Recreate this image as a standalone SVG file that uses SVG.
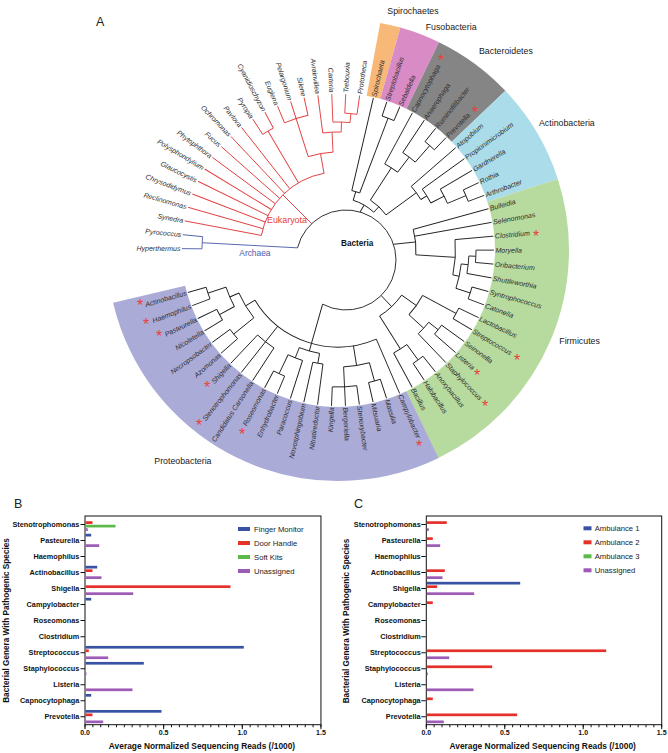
<svg xmlns="http://www.w3.org/2000/svg" width="668" height="753" viewBox="0 0 668 753">
<style>
text{font-family:"Liberation Sans",Arial,sans-serif}
.lf{font-style:italic;font-size:7px;fill:#2d2d2d}
.e{text-anchor:end}
.grp{font-size:8.8px;fill:#1a1a1a}
.ast{font-size:16px;fill:#e8413c;text-anchor:middle}
.tr line,.tr circle,.tr path{fill:none;stroke-width:0.9}
.rd line,.rd circle{stroke:#e23c3c}
.bl line,.bl circle{stroke:#4b5ba8}
.bk line,.bk circle,.bk path{stroke:#1c1c1c}
.wd circle{fill:none;stroke-width:74}
.cat{font-size:7.3px;font-weight:bold;text-anchor:end;fill:#111}
.tk{font-size:7px;font-weight:bold;text-anchor:middle;fill:#111}
.ax{font-size:8.4px;font-weight:bold;text-anchor:middle;fill:#111}
.lg{font-size:7.7px;fill:#222}
.pl{font-size:12.5px;fill:#222}
.fm{fill:none;stroke:#111;stroke-width:1}
.tkl{stroke:#111;fill:none}
.cb{fill:#3953a4}.cr{fill:#e4322b}.cg{fill:#5bb947}.cp{fill:#9d5bb5}
</style>
<rect width="668" height="753" fill="#fff"/>
<text class="pl" x="96" y="26">A</text>
<g id="phyla-bands" class="wd" transform="translate(338 250)">
<circle r="194" stroke="#f8b878" stroke-dasharray="17.37 1300" transform="rotate(-79.47)"/>
<circle r="194" stroke="#d98bc5" stroke-dasharray="34.74 1300" transform="rotate(-74.34)"/>
<circle r="194" stroke="#858585" stroke-dasharray="69.48 1300" transform="rotate(-64.08)"/>
<circle r="194" stroke="#abdcea" stroke-dasharray="86.85 1300" transform="rotate(-43.56)"/>
<circle r="194" stroke="#b7da9f" stroke-dasharray="277.96 1300" transform="rotate(-17.91)"/>
<circle r="194" stroke="#ababd7" stroke-dasharray="347.4 1300" transform="rotate(64.18)"/>
</g>
<g id="connectors" class="tr" transform="translate(338 250)">
<g class="bl">
<line x1="40.56" x2="136" transform="rotate(-176.94)"/>
<circle r="136" stroke-dasharray="12.18 1000" transform="rotate(-179.5)"/>
<line x1="136" x2="156" transform="rotate(-179.5)"/>
<line x1="136" x2="156" transform="rotate(-174.37)"/>
</g>
<g class="rd">
<line x1="37.25" x2="78" transform="rotate(-135)"/>
<circle r="78" stroke-dasharray="93.85 1000" transform="rotate(-169.24)"/>
<line x1="78" x2="156" transform="rotate(-169.24)"/>
<line x1="78" x2="156" transform="rotate(-164.11)"/>
<line x1="78" x2="156" transform="rotate(-158.98)"/>
<line x1="78" x2="156" transform="rotate(-153.85)"/>
<line x1="78" x2="156" transform="rotate(-148.72)"/>
<line x1="78" x2="156" transform="rotate(-143.59)"/>
<line x1="78" x2="156" transform="rotate(-138.46)"/>
<line x1="78" x2="156" transform="rotate(-133.33)"/>
<line x1="78" x2="156" transform="rotate(-128.2)"/>
<line x1="78" x2="138" transform="rotate(-120.5)"/>
<circle r="138" stroke-dasharray="12.36 1000" transform="rotate(-123.07)"/>
<line x1="138" x2="156" transform="rotate(-123.07)"/>
<line x1="138" x2="156" transform="rotate(-117.94)"/>
<line x1="78" x2="98" transform="rotate(-100.3)"/>
<circle r="98" stroke-dasharray="25.28 1000" transform="rotate(-107.68)"/>
<line x1="98" x2="156" transform="rotate(-107.68)"/>
<circle r="138" stroke-dasharray="24.71 1000" transform="rotate(-112.81)"/>
<line x1="138" x2="156" transform="rotate(-112.81)"/>
<line x1="138" x2="156" transform="rotate(-102.55)"/>
<line x1="98" x2="118" transform="rotate(-92.9)"/>
<circle r="118" stroke-dasharray="18.47 1000" transform="rotate(-97.42)"/>
<line x1="118" x2="156" transform="rotate(-97.42)"/>
<line x1="118" x2="128" transform="rotate(-88.45)"/>
<circle r="128" stroke-dasharray="17.18 1000" transform="rotate(-92.29)"/>
<line x1="128" x2="156" transform="rotate(-92.29)"/>
<line x1="128" x2="137" transform="rotate(-84.6)"/>
<circle r="137" stroke-dasharray="12.27 1000" transform="rotate(-87.16)"/>
<line x1="137" x2="156" transform="rotate(-87.16)"/>
<line x1="137" x2="156" transform="rotate(-82.03)"/>
</g>
<g class="bk">
<path d="M-40.5 -2.16A50 50 0 1 1 -15.4 54.18"/>
<line x1="43.9" x2="52" transform="rotate(-59.8)"/>
<circle r="52" stroke-dasharray="24.01 1000" transform="rotate(-73.05)"/>
<line x1="52" x2="61" transform="rotate(-73.05)"/>
<circle r="61" stroke-dasharray="8.2 1000" transform="rotate(-76.9)"/>
<line x1="61" x2="156" transform="rotate(-76.9)"/>
<line x1="61" x2="141" transform="rotate(-69.2)"/>
<circle r="141" stroke-dasharray="12.62 1000" transform="rotate(-71.77)"/>
<line x1="141" x2="156" transform="rotate(-71.77)"/>
<line x1="141" x2="156" transform="rotate(-66.64)"/>
<line x1="52" x2="59.5" transform="rotate(-46.6)"/>
<circle r="59.5" stroke-dasharray="21.64 1000" transform="rotate(-57.02)"/>
<line x1="59.5" x2="98" transform="rotate(-57.02)"/>
<circle r="98" stroke-dasharray="15.36 1000" transform="rotate(-61.51)"/>
<line x1="98" x2="156" transform="rotate(-61.51)"/>
<line x1="98" x2="117" transform="rotate(-52.53)"/>
<circle r="117" stroke-dasharray="15.7 1000" transform="rotate(-56.38)"/>
<line x1="117" x2="156" transform="rotate(-56.38)"/>
<line x1="117" x2="139" transform="rotate(-48.69)"/>
<circle r="139" stroke-dasharray="12.45 1000" transform="rotate(-51.25)"/>
<line x1="139" x2="156" transform="rotate(-51.25)"/>
<line x1="139" x2="156" transform="rotate(-46.12)"/>
<line x1="59.5" x2="97" transform="rotate(-36.18)"/>
<circle r="97" stroke-dasharray="16.29 1000" transform="rotate(-40.99)"/>
<line x1="97" x2="156" transform="rotate(-40.99)"/>
<line x1="97" x2="104" transform="rotate(-31.37)"/>
<circle r="104" stroke-dasharray="16.3 1000" transform="rotate(-35.86)"/>
<line x1="104" x2="156" transform="rotate(-35.86)"/>
<line x1="104" x2="119" transform="rotate(-26.88)"/>
<circle r="119" stroke-dasharray="15.97 1000" transform="rotate(-30.73)"/>
<line x1="119" x2="156" transform="rotate(-30.73)"/>
<line x1="119" x2="139" transform="rotate(-23.04)"/>
<circle r="139" stroke-dasharray="12.45 1000" transform="rotate(-25.6)"/>
<line x1="139" x2="156" transform="rotate(-25.6)"/>
<line x1="139" x2="156" transform="rotate(-20.47)"/>
<line x1="55.76" x2="78" transform="rotate(-5.9)"/>
<circle r="78" stroke-dasharray="25.76 1000" transform="rotate(-15.34)"/>
<line x1="78" x2="156" transform="rotate(-15.34)"/>
<line x1="78" x2="156" transform="rotate(-10.21)"/>
<line x1="78" x2="117.5" transform="rotate(3.58)"/>
<circle r="117.5" stroke-dasharray="35.5 1000" transform="rotate(-5.08)"/>
<line x1="117.5" x2="156" transform="rotate(-5.08)"/>
<line x1="117.5" x2="124" transform="rotate(12.23)"/>
<circle r="124" stroke-dasharray="24.97 1000" transform="rotate(6.46)"/>
<line x1="124" x2="131" transform="rotate(6.46)"/>
<circle r="131" stroke-dasharray="17.59 1000" transform="rotate(2.615)"/>
<line x1="131" x2="156" transform="rotate(10.31)"/>
<line x1="131" x2="138" transform="rotate(2.615)"/>
<circle r="138" stroke-dasharray="12.36 1000" transform="rotate(0.05)"/>
<line x1="138" x2="156" transform="rotate(0.05)"/>
<line x1="138" x2="156" transform="rotate(5.18)"/>
<line x1="124" x2="139" transform="rotate(18)"/>
<circle r="139" stroke-dasharray="12.45 1000" transform="rotate(15.44)"/>
<line x1="139" x2="156" transform="rotate(15.44)"/>
<line x1="139" x2="156" transform="rotate(20.57)"/>
<line x1="62.8" x2="78" transform="rotate(46.55)"/>
<circle r="78" stroke-dasharray="30.55 1000" transform="rotate(35.33)"/>
<line x1="78" x2="96" transform="rotate(35.33)"/>
<circle r="96" stroke-dasharray="23.64 1000" transform="rotate(28.27)"/>
<line x1="96" x2="134" transform="rotate(28.27)"/>
<circle r="134" stroke-dasharray="12 1000" transform="rotate(25.7)"/>
<line x1="134" x2="156" transform="rotate(25.7)"/>
<line x1="134" x2="156" transform="rotate(30.83)"/>
<line x1="96" x2="116" transform="rotate(42.38)"/>
<circle r="116" stroke-dasharray="15.57 1000" transform="rotate(38.53)"/>
<line x1="116" x2="156" transform="rotate(46.22)"/>
<line x1="116" x2="128" transform="rotate(38.53)"/>
<circle r="128" stroke-dasharray="11.46 1000" transform="rotate(35.96)"/>
<line x1="128" x2="156" transform="rotate(35.96)"/>
<line x1="128" x2="156" transform="rotate(41.09)"/>
<line x1="78" x2="117" transform="rotate(57.77)"/>
<circle r="117" stroke-dasharray="15.7 1000" transform="rotate(53.92)"/>
<line x1="117" x2="156" transform="rotate(61.61)"/>
<line x1="117" x2="136" transform="rotate(53.92)"/>
<circle r="136" stroke-dasharray="12.18 1000" transform="rotate(51.35)"/>
<line x1="136" x2="156" transform="rotate(51.35)"/>
<line x1="136" x2="156" transform="rotate(56.48)"/>
<line x1="56.33" x2="105" transform="rotate(105.86)"/>
<circle r="97" stroke-dasharray="138.97 1000" transform="rotate(66.74)"/>
<line x1="97" x2="156" transform="rotate(66.74)"/>
<line x1="97" x2="117" transform="rotate(80.85)"/>
<circle r="117" stroke-dasharray="26.18 1000" transform="rotate(74.44)"/>
<line x1="117" x2="136" transform="rotate(74.44)"/>
<circle r="136" stroke-dasharray="12.18 1000" transform="rotate(71.87)"/>
<line x1="136" x2="156" transform="rotate(71.87)"/>
<line x1="136" x2="156" transform="rotate(77)"/>
<line x1="117" x2="156" transform="rotate(87.26)"/>
<circle r="137" stroke-dasharray="24.53 1000" transform="rotate(82.13)"/>
<line x1="137" x2="156" transform="rotate(82.13)"/>
<line x1="137" x2="156" transform="rotate(92.39)"/>
<circle r="105" stroke-dasharray="21.15 1000" transform="rotate(100.09)"/>
<line x1="105" x2="115" transform="rotate(100.09)"/>
<circle r="115" stroke-dasharray="10.3 1000" transform="rotate(97.52)"/>
<line x1="115" x2="156" transform="rotate(97.52)"/>
<line x1="115" x2="156" transform="rotate(102.65)"/>
<line x1="105" x2="116" transform="rotate(111.63)"/>
<circle r="116" stroke-dasharray="15.59 1000" transform="rotate(107.78)"/>
<line x1="116" x2="156" transform="rotate(107.78)"/>
<line x1="116" x2="137" transform="rotate(115.48)"/>
<circle r="137" stroke-dasharray="12.27 1000" transform="rotate(112.91)"/>
<line x1="137" x2="156" transform="rotate(112.91)"/>
<line x1="137" x2="156" transform="rotate(118.04)"/>
<line x1="97" x2="156" transform="rotate(128.3)"/>
<circle r="117" stroke-dasharray="20.95 1000" transform="rotate(123.17)"/>
<line x1="117" x2="156" transform="rotate(123.17)"/>
<line x1="117" x2="156" transform="rotate(133.43)"/>
<line x1="97" x2="108" transform="rotate(148.83)"/>
<circle r="108" stroke-dasharray="29.01 1000" transform="rotate(141.13)"/>
<line x1="108" x2="134" transform="rotate(141.13)"/>
<circle r="134" stroke-dasharray="12 1000" transform="rotate(138.56)"/>
<line x1="134" x2="156" transform="rotate(138.56)"/>
<line x1="134" x2="156" transform="rotate(143.69)"/>
<line x1="108" x2="118" transform="rotate(156.52)"/>
<circle r="118" stroke-dasharray="21.13 1000" transform="rotate(151.39)"/>
<line x1="118" x2="135" transform="rotate(151.39)"/>
<circle r="135" stroke-dasharray="12.09 1000" transform="rotate(148.82)"/>
<line x1="135" x2="156" transform="rotate(148.82)"/>
<line x1="135" x2="156" transform="rotate(153.95)"/>
<line x1="118" x2="137" transform="rotate(161.65)"/>
<circle r="137" stroke-dasharray="12.27 1000" transform="rotate(159.08)"/>
<line x1="137" x2="156" transform="rotate(159.08)"/>
<line x1="137" x2="156" transform="rotate(164.21)"/>
</g>
</g>
<g id="leaves" transform="translate(338 250)">
<g id="n-hyperthermus"><text class="lf e" transform="rotate(0.5) translate(-157.5 2.5)">Hyperthermus</text></g>
<g id="n-pyrococcus"><text class="lf e" transform="rotate(5.63) translate(-157.5 2.5)">Pyrococcus</text></g>
<g id="n-synedra"><text class="lf e" transform="rotate(10.76) translate(-157.5 2.5)">Synedra</text></g>
<g id="n-reclinomonas"><text class="lf e" transform="rotate(15.89) translate(-157.5 2.5)">Reclinomonas</text></g>
<g id="n-chrysodidymus"><text class="lf e" transform="rotate(21.02) translate(-157.5 2.5)">Chrysodidymus</text></g>
<g id="n-glaucocystis"><text class="lf e" transform="rotate(26.15) translate(-157.5 2.5)">Glaucocystis</text></g>
<g id="n-polysphondylium"><text class="lf e" transform="rotate(31.28) translate(-157.5 2.5)">Polysphondylium</text></g>
<g id="n-phytophthora"><text class="lf e" transform="rotate(36.41) translate(-157.5 2.5)">Phytophthora</text></g>
<g id="n-fucus"><text class="lf e" transform="rotate(41.54) translate(-157.5 2.5)">Fucus</text></g>
<g id="n-ochromonas"><text class="lf e" transform="rotate(46.67) translate(-157.5 2.5)">Ochromonas</text></g>
<g id="n-pavlova"><text class="lf e" transform="rotate(51.8) translate(-157.5 2.5)">Pavlova</text></g>
<g id="n-pyropia"><text class="lf e" transform="rotate(56.93) translate(-157.5 2.5)">Pyropia</text></g>
<g id="n-cyanidioschyzon"><text class="lf e" transform="rotate(62.06) translate(-157.5 2.5)">Cyanidioschyzon</text></g>
<g id="n-euglena"><text class="lf e" transform="rotate(67.19) translate(-157.5 2.5)">Euglena</text></g>
<g id="n-pelargonium"><text class="lf e" transform="rotate(72.32) translate(-157.5 2.5)">Pelargonium</text></g>
<g id="n-silene"><text class="lf e" transform="rotate(77.45) translate(-157.5 2.5)">Silene</text></g>
<g id="n-avrainvillea"><text class="lf e" transform="rotate(82.58) translate(-157.5 2.5)">Avrainvillea</text></g>
<g id="n-carteria"><text class="lf e" transform="rotate(87.71) translate(-157.5 2.5)">Carteria</text></g>
<g id="n-trebouxia"><text class="lf" transform="rotate(-87.16) translate(157.5 2.5)">Trebouxia</text></g>
<g id="n-prototheca"><text class="lf" transform="rotate(-82.03) translate(157.5 2.5)">Prototheca</text></g>
<g id="n-spirochaeta"><text class="lf" transform="rotate(-76.9) translate(157.5 2.5)">Spirochaeta</text></g>
<g id="n-streptobacillus"><text class="lf" transform="rotate(-71.77) translate(157.5 2.5)">Streptobacillus</text></g>
<g id="n-sebaldella"><text class="lf" transform="rotate(-66.64) translate(157.5 2.5)">Sebaldella</text></g>
<g id="n-capnocytophaga"><text class="lf" transform="rotate(-61.51) translate(157.5 2.5)">Capnocytophaga</text></g>
<g id="n-anaerophaga"><text class="lf" transform="rotate(-56.38) translate(157.5 2.5)">Anaerophaga</text></g>
<g id="n-ruminofilibacter"><text class="lf" transform="rotate(-51.25) translate(157.5 2.5)">Ruminofilibacter</text></g>
<g id="n-prevotella"><text class="lf" transform="rotate(-46.12) translate(157.5 2.5)">Prevotella</text></g>
<g id="n-atopobium"><text class="lf" transform="rotate(-40.99) translate(157.5 2.5)">Atopobium</text></g>
<g id="n-propionimicrobium"><text class="lf" transform="rotate(-35.86) translate(157.5 2.5)">Propionimicrobium</text></g>
<g id="n-gardnerella"><text class="lf" transform="rotate(-30.73) translate(157.5 2.5)">Gardnerella</text></g>
<g id="n-rothia"><text class="lf" transform="rotate(-25.6) translate(157.5 2.5)">Rothia</text></g>
<g id="n-arthrobacter"><text class="lf" transform="rotate(-20.47) translate(157.5 2.5)">Arthrobacter</text></g>
<g id="n-bulleidia"><text class="lf" transform="rotate(-15.34) translate(157.5 2.5)">Bulleidia</text></g>
<g id="n-selenomonas"><text class="lf" transform="rotate(-10.21) translate(157.5 2.5)">Selenomonas</text></g>
<g id="n-clostridium"><text class="lf" transform="rotate(-5.08) translate(157.5 2.5)">Clostridium</text></g>
<g id="n-moryella"><text class="lf" transform="rotate(0.05) translate(157.5 2.5)">Moryella</text></g>
<g id="n-oribacterium"><text class="lf" transform="rotate(5.18) translate(157.5 2.5)">Oribacterium</text></g>
<g id="n-shuttleworthia"><text class="lf" transform="rotate(10.31) translate(157.5 2.5)">Shuttleworthia</text></g>
<g id="n-syntrophococcus"><text class="lf" transform="rotate(15.44) translate(157.5 2.5)">Syntrophococcus</text></g>
<g id="n-catonella"><text class="lf" transform="rotate(20.57) translate(157.5 2.5)">Catonella</text></g>
<g id="n-lactobacillus"><text class="lf" transform="rotate(25.7) translate(157.5 2.5)">Lactobacillus</text></g>
<g id="n-streptococcus"><text class="lf" transform="rotate(30.83) translate(157.5 2.5)">Streptococcus</text></g>
<g id="n-seinonella"><text class="lf" transform="rotate(35.96) translate(157.5 2.5)">Seinonella</text></g>
<g id="n-listeria"><text class="lf" transform="rotate(41.09) translate(157.5 2.5)">Listeria</text></g>
<g id="n-staphylococcus"><text class="lf" transform="rotate(46.22) translate(157.5 2.5)">Staphylococcus</text></g>
<g id="n-anoxybacillus"><text class="lf" transform="rotate(51.35) translate(157.5 2.5)">Anoxybacillus</text></g>
<g id="n-halobacillus"><text class="lf" transform="rotate(56.48) translate(157.5 2.5)">Halobacillus</text></g>
<g id="n-bacillus"><text class="lf" transform="rotate(61.61) translate(157.5 2.5)">Bacillus</text></g>
<g id="n-campylobacter"><text class="lf" transform="rotate(66.74) translate(157.5 2.5)">Campylobacter</text></g>
<g id="n-massilia"><text class="lf" transform="rotate(71.87) translate(157.5 2.5)">Massilia</text></g>
<g id="n-mitsuaria"><text class="lf" transform="rotate(77) translate(157.5 2.5)">Mitsuaria</text></g>
<g id="n-stenoxybacter"><text class="lf" transform="rotate(82.13) translate(157.5 2.5)">Stenoxybacter</text></g>
<g id="n-bergeriella"><text class="lf" transform="rotate(87.26) translate(157.5 2.5)">Bergeriella</text></g>
<g id="n-kingella"><text class="lf e" transform="rotate(-87.61) translate(-157.5 2.5)">Kingella</text></g>
<g id="n-nitratireductor"><text class="lf e" transform="rotate(-82.48) translate(-157.5 2.5)">Nitratireductor</text></g>
<g id="n-novosphingobium"><text class="lf e" transform="rotate(-77.35) translate(-157.5 2.5)">Novosphingobium</text></g>
<g id="n-paracoccus"><text class="lf e" transform="rotate(-72.22) translate(-157.5 2.5)">Paracoccus</text></g>
<g id="n-enhydrobacter"><text class="lf e" transform="rotate(-67.09) translate(-157.5 2.5)">Enhydrobacter</text></g>
<g id="n-roseomonas"><text class="lf e" transform="rotate(-61.96) translate(-157.5 2.5)">Roseomonas</text></g>
<g id="n-carsonella"><text class="lf e" transform="rotate(-56.83) translate(-157.5 2.5)">Candidatus Carsonella</text></g>
<g id="n-stenotrophomonas"><text class="lf e" transform="rotate(-51.7) translate(-157.5 2.5)">Stenotrophomonas</text></g>
<g id="n-shigella"><text class="lf e" transform="rotate(-46.57) translate(-157.5 2.5)">Shigella</text></g>
<g id="n-azomonas"><text class="lf e" transform="rotate(-41.44) translate(-157.5 2.5)">Azomonas</text></g>
<g id="n-necropsobacter"><text class="lf e" transform="rotate(-36.31) translate(-157.5 2.5)">Necropsobacter</text></g>
<g id="n-nicoletella"><text class="lf e" transform="rotate(-31.18) translate(-157.5 2.5)">Nicoletella</text></g>
<g id="n-pasteurella"><text class="lf e" transform="rotate(-26.05) translate(-157.5 2.5)">Pasteurella</text></g>
<g id="n-haemophilus"><text class="lf e" transform="rotate(-20.92) translate(-157.5 2.5)">Haemophilus</text></g>
<g id="n-actinobacillus"><text class="lf e" transform="rotate(-15.79) translate(-157.5 2.5)">Actinobacillus</text></g>
</g>
<g id="pathogen-marks">
<text class="ast" x="441" y="66.2">*</text>
<text class="ast" x="475" y="118.2">*</text>
<text class="ast" x="536" y="242.2">*</text>
<text class="ast" x="517" y="366.2">*</text>
<text class="ast" x="477" y="381.2">*</text>
<text class="ast" x="485" y="412.2">*</text>
<text class="ast" x="419" y="452.2">*</text>
<text class="ast" x="242" y="440.2">*</text>
<text class="ast" x="199" y="431.2">*</text>
<text class="ast" x="207" y="393.2">*</text>
<text class="ast" x="159" y="342.2">*</text>
<text class="ast" x="146" y="330.2">*</text>
<text class="ast" x="140" y="311.2">*</text>
</g>
<g id="clade-labels">
<text x="267" y="223" style="font-size:8.9px;fill:#e23c3c">Eukaryota</text>
<text x="239.3" y="255.5" style="font-size:8.4px;fill:#4b5ba8">Archaea</text>
<text x="341" y="245.7" style="font-size:8.2px;font-weight:bold;fill:#111">Bacteria</text>
<text class="grp" x="387.3" y="14.3">Spirochaetes</text>
<text class="grp" x="425.7" y="29.5">Fusobacteria</text>
<text class="grp" x="479" y="53.5">Bacteroidetes</text>
<text class="grp" x="539" y="125.7">Actinobacteria</text>
<text class="grp" x="559.3" y="343.7">Firmicutes</text>
<text class="grp" x="154.3" y="463.7">Proteobacteria</text>
</g>
<g id="chart-B">
<text class="pl" x="14" y="508">B</text>
<rect class="fm" x="85" y="516" width="235.95" height="208.7"/>
<line class="tkl" x1="82.75" y1="524" x2="82.75" y2="718" stroke-width="4.5" stroke-dasharray="1 15.02"/>
<line class="tkl" x1="84.5" y1="726" x2="321.5" y2="726" stroke-width="2.6" stroke-dasharray="1 6.865"/>
<path class="tkl" d="M85 724.7v4.5M163.65 724.7v4.5M242.3 724.7v4.5M320.95 724.7v4.5"/>
<text class="tk" x="85" y="735">0.0</text><text class="tk" x="163.65" y="735">0.5</text><text class="tk" x="242.3" y="735">1.0</text><text class="tk" x="320.95" y="735">1.5</text>
<text class="ax" x="202" y="748.5">Average Normalized Sequencing Reads (/1000)</text>
<text class="ax" style="font-size:8.2px" transform="translate(9 620.5) rotate(-90)">Bacterial Genera With Pathogenic Species</text>
<text class="cat" x="79.3" y="527.1">Stenotrophomonas</text>
<text class="cat" x="79.3" y="543.12">Pasteurella</text>
<text class="cat" x="79.3" y="559.14">Haemophilus</text>
<text class="cat" x="79.3" y="575.16">Actinobacillus</text>
<text class="cat" x="79.3" y="591.18">Shigella</text>
<text class="cat" x="79.3" y="607.2">Campylobacter</text>
<text class="cat" x="79.3" y="623.22">Roseomonas</text>
<text class="cat" x="79.3" y="639.24">Clostridium</text>
<text class="cat" x="79.3" y="655.26">Streptococcus</text>
<text class="cat" x="79.3" y="671.28">Staphylococcus</text>
<text class="cat" x="79.3" y="687.3">Listeria</text>
<text class="cat" x="79.3" y="703.32">Capnocytophaga</text>
<text class="cat" x="79.3" y="719.34">Prevotella</text>
<rect class="cr" x="85.5" y="521.25" width="7" height="2.7"/>
<rect class="cg" x="85.5" y="524.75" width="30" height="2.7"/>
<rect class="cp" x="85.5" y="528.25" width="2.3" height="2.7"/>
<rect class="cb" x="85.5" y="533.77" width="5.7" height="2.7"/>
<rect class="cp" x="85.5" y="544.27" width="13.7" height="2.7"/>
<rect class="cb" x="85.5" y="565.81" width="11.7" height="2.7"/>
<rect class="cr" x="85.5" y="569.31" width="7" height="2.7"/>
<rect class="cp" x="85.5" y="576.31" width="16" height="2.7"/>
<rect class="cr" x="85.5" y="585.33" width="145" height="2.7"/>
<rect class="cp" x="85.5" y="592.33" width="47.7" height="2.7"/>
<rect class="cb" x="85.5" y="597.85" width="5.7" height="2.7"/>
<rect class="cb" x="85.5" y="645.91" width="158.3" height="2.7"/>
<rect class="cr" x="85.5" y="649.41" width="3.3" height="2.7"/>
<rect class="cp" x="85.5" y="656.41" width="22.7" height="2.7"/>
<rect class="cb" x="85.5" y="661.93" width="58.3" height="2.7"/>
<rect class="cp" x="85.5" y="672.43" width="1" height="2.7"/>
<rect class="cp" x="85.5" y="688.45" width="47" height="2.7"/>
<rect class="cb" x="85.5" y="693.97" width="5.7" height="2.7"/>
<rect class="cb" x="85.5" y="709.99" width="76" height="2.7"/>
<rect class="cr" x="85.5" y="713.49" width="7" height="2.7"/>
<rect class="cp" x="85.5" y="720.49" width="17.7" height="2.7"/>
<g id="legend-B">
<rect class="cb" x="238" y="527" width="12" height="4"/><text class="lg" x="254" y="531.8">Finger Monitor</text>
<rect class="cr" x="238" y="541" width="12" height="4"/><text class="lg" x="254" y="545.8">Door Handle</text>
<rect class="cg" x="238" y="555" width="12" height="4"/><text class="lg" x="254" y="559.8">Soft Kits</text>
<rect class="cp" x="238" y="569" width="12" height="4"/><text class="lg" x="254" y="573.8">Unassigned</text>
</g>
</g>
<g id="chart-C">
<text class="pl" x="354" y="508">C</text>
<rect class="fm" x="426.3" y="516" width="235.41" height="208.7"/>
<line class="tkl" x1="423.55" y1="524" x2="423.55" y2="718" stroke-width="4.5" stroke-dasharray="1 15.02"/>
<line class="tkl" x1="425.8" y1="726" x2="662.2" y2="726" stroke-width="2.6" stroke-dasharray="1 6.847"/>
<path class="tkl" d="M426.3 724.7v4.5M504.77 724.7v4.5M583.24 724.7v4.5M661.71 724.7v4.5"/>
<text class="tk" x="426.3" y="735">0.0</text><text class="tk" x="504.77" y="735">0.5</text><text class="tk" x="583.24" y="735">1.0</text><text class="tk" x="661.71" y="735">1.5</text>
<text class="ax" x="542.7" y="748.5">Average Normalized Sequencing Reads (/1000)</text>
<text class="ax" style="font-size:8.2px" transform="translate(349 621) rotate(-90)">Bacterial Genera With Pathogenic Species</text>
<text class="cat" x="420.7" y="527.1">Stenotrophomonas</text>
<text class="cat" x="420.7" y="543.12">Pasteurella</text>
<text class="cat" x="420.7" y="559.14">Haemophilus</text>
<text class="cat" x="420.7" y="575.16">Actinobacillus</text>
<text class="cat" x="420.7" y="591.18">Shigella</text>
<text class="cat" x="420.7" y="607.2">Campylobacter</text>
<text class="cat" x="420.7" y="623.22">Roseomonas</text>
<text class="cat" x="420.7" y="639.24">Clostridium</text>
<text class="cat" x="420.7" y="655.26">Streptococcus</text>
<text class="cat" x="420.7" y="671.28">Staphylococcus</text>
<text class="cat" x="420.7" y="687.3">Listeria</text>
<text class="cat" x="420.7" y="703.32">Capnocytophaga</text>
<text class="cat" x="420.7" y="719.34">Prevotella</text>
<rect class="cr" x="426.8" y="521.25" width="20" height="2.7"/>
<rect class="cp" x="426.8" y="528.25" width="2" height="2.7"/>
<rect class="cr" x="426.8" y="537.27" width="6" height="2.7"/>
<rect class="cp" x="426.8" y="544.27" width="13.4" height="2.7"/>
<rect class="cr" x="426.8" y="569.31" width="18" height="2.7"/>
<rect class="cp" x="426.8" y="576.31" width="15.7" height="2.7"/>
<rect class="cb" x="426.8" y="581.83" width="93.4" height="2.7"/>
<rect class="cr" x="426.8" y="585.33" width="10.4" height="2.7"/>
<rect class="cp" x="426.8" y="592.33" width="47.4" height="2.7"/>
<rect class="cr" x="426.8" y="601.35" width="6" height="2.7"/>
<rect class="cr" x="426.8" y="649.41" width="179.4" height="2.7"/>
<rect class="cp" x="426.8" y="656.41" width="22.4" height="2.7"/>
<rect class="cr" x="426.8" y="665.43" width="65.4" height="2.7"/>
<rect class="cp" x="426.8" y="672.43" width="1" height="2.7"/>
<rect class="cp" x="426.8" y="688.45" width="46.7" height="2.7"/>
<rect class="cr" x="426.8" y="697.47" width="6" height="2.7"/>
<rect class="cr" x="426.8" y="713.49" width="90.4" height="2.7"/>
<rect class="cp" x="426.8" y="720.49" width="17" height="2.7"/>
<g id="legend-C">
<rect class="cb" x="583.5" y="526.3" width="8" height="4"/><text class="lg" x="594.7" y="531.1">Ambulance 1</text>
<rect class="cr" x="583.5" y="540.3" width="8" height="4"/><text class="lg" x="594.7" y="545.1">Ambulance 2</text>
<rect class="cg" x="583.5" y="554.3" width="8" height="4"/><text class="lg" x="594.7" y="559.1">Ambulance 3</text>
<rect class="cp" x="583.5" y="568.3" width="8" height="4"/><text class="lg" x="594.7" y="573.1">Unassigned</text>
</g>
</g>
</svg>
